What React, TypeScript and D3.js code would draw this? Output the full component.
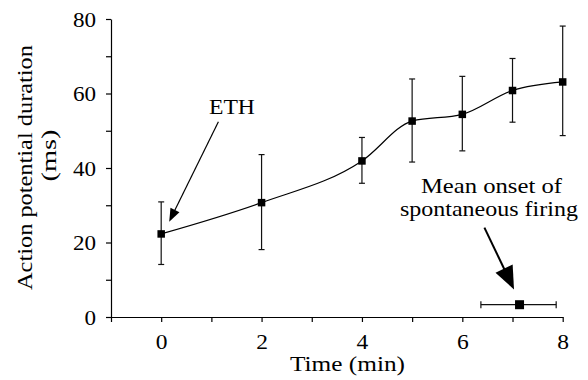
import * as d3 from "d3";
import { useEffect, useRef } from "react";

// time points (min) and action potential duration (ms)
const times = [0, 2, 4, 5, 6, 7, 8];
const apdMean = [22.3, 30.7, 41.9, 52.6, 54.4, 60.8, 63.1];
const apdUpper = [30.9, 43.6, 48.2, 63.9, 64.6, 69.4, 78.1];
const apdLower = [14.1, 18.1, 35.9, 41.6, 44.6, 52.3, 48.7];

// mean onset of spontaneous firing (min), drawn near the baseline
const onsetMean = [7.14];
const onsetLow = [6.37];
const onsetHigh = [7.87];
const onsetLevel = [3.3];

const xTicks = [-1, 0, 1, 2, 3, 4, 5, 6, 7, 8];
const xTickLabels = [0, 2, 4, 6, 8];
const yTicks = [0, 10, 20, 30, 40, 50, 60, 70, 80];
const yTickLabels = [0, 20, 40, 60, 80];

const FONT = "Liberation Serif, Times New Roman, Times, serif";

export default function App() {
  const ref = useRef<SVGSVGElement | null>(null);

  useEffect(() => {
    if (!ref.current) return;
    const svg = d3.select(ref.current);
    svg.selectAll("*").remove();

    const x = d3.scaleLinear().domain([-1, 8]).range([111, 562.7]);
    const y = d3.scaleLinear().domain([0, 80]).range([317, 19]);

    // axes
    const xAxis = svg
      .append("g")
      .attr("transform", `translate(0,${y(0)})`)
      .call(
        d3
          .axisBottom(x)
          .tickValues(xTicks)
          .tickSize(5)
          .tickSizeOuter(0)
          .tickFormat((d) => (xTickLabels.includes(+d) ? String(d) : ""))
      );
    const yAxis = svg
      .append("g")
      .attr("transform", `translate(${x(-1)},0)`)
      .call(
        d3
          .axisLeft(y)
          .tickValues(yTicks)
          .tickSize(5)
          .tickSizeOuter(0)
          .tickFormat((d) => (yTickLabels.includes(+d) ? String(d) : ""))
      );

    [xAxis, yAxis].forEach((g) => {
      g.attr("font-family", null).attr("font-size", null);
      g.select(".domain").attr("stroke", "#000").attr("stroke-width", 1.2);
      g.selectAll(".tick line").attr("stroke", "#000").attr("stroke-width", 1.2);
      g.selectAll(".tick text")
        .style("font-family", FONT)
        .style("font-size", "21px")
        .attr("fill", "#000");
    });
    xAxis
      .selectAll(".tick text")
      .attr("y", 0)
      .attr("dy", 0)
      .attr("transform", "translate(0,32) scale(1.12,1)");
    yAxis
      .selectAll(".tick text")
      .attr("x", 0)
      .attr("dy", "0.34em")
      .attr("transform", "translate(-15,0) scale(1.1,1)");

    const text = (s: string, transform: string, len: number) =>
      svg
        .append("text")
        .attr("transform", transform)
        .attr("text-anchor", "middle")
        .style("font-family", FONT)
        .style("font-size", "21px")
        .attr("textLength", len)
        .attr("lengthAdjust", "spacingAndGlyphs")
        .text(s);

    // axis titles
    text("Time (min)", "translate(347.5,370.5)", 115);
    text("Action potential duration", "translate(31.5,167.5) rotate(-90)", 245);
    text("(ms)", "translate(55.5,155.5) rotate(-90)", 52);

    const data = times.map((t, i) => ({
      t,
      m: apdMean[i],
      hi: apdUpper[i],
      lo: apdLower[i],
    }));

    // smooth line through the means
    const line = d3
      .line<{ t: number; m: number }>()
      .x((d) => x(d.t))
      .y((d) => y(d.m))
      .curve(d3.curveMonotoneX);
    svg
      .append("path")
      .datum(data)
      .attr("d", line)
      .attr("fill", "none")
      .attr("stroke", "#000")
      .attr("stroke-width", 1.2);

    // error bars
    const cap = 3;
    const eb = svg.append("g").attr("stroke", "#111").attr("stroke-width", 1.2);
    data.forEach((d) => {
      eb.append("line")
        .attr("x1", x(d.t))
        .attr("x2", x(d.t))
        .attr("y1", y(d.lo))
        .attr("y2", y(d.hi));
      [d.lo, d.hi].forEach((v) => {
        eb.append("line")
          .attr("x1", x(d.t) - cap)
          .attr("x2", x(d.t) + cap)
          .attr("y1", y(v))
          .attr("y2", y(v));
      });
    });

    // square markers
    const sq = 7.5;
    svg
      .append("g")
      .selectAll("rect")
      .data(data)
      .enter()
      .append("rect")
      .attr("x", (d) => x(d.t) - sq / 2)
      .attr("y", (d) => y(d.m) - sq / 2)
      .attr("width", sq)
      .attr("height", sq)
      .attr("fill", "#000");

    // onset marker with horizontal error bar
    const oy = y(onsetLevel[0]);
    eb.append("line")
      .attr("x1", x(onsetLow[0]))
      .attr("x2", x(onsetHigh[0]))
      .attr("y1", oy)
      .attr("y2", oy);
    [onsetLow[0], onsetHigh[0]].forEach((v) => {
      eb.append("line")
        .attr("x1", x(v))
        .attr("x2", x(v))
        .attr("y1", oy - 3.5)
        .attr("y2", oy + 3.5);
    });
    const osq = 9;
    svg
      .append("rect")
      .attr("x", x(onsetMean[0]) - osq / 2)
      .attr("y", oy - osq / 2)
      .attr("width", osq)
      .attr("height", osq)
      .attr("fill", "#000");

    // arrows
    const arrow = (
      from: [number, number],
      to: [number, number],
      headLen: number,
      headHalf: number,
      width: number
    ) => {
      const x1 = x(from[0]);
      const y1 = y(from[1]);
      const x2 = x(to[0]);
      const y2 = y(to[1]);
      const dx = x2 - x1;
      const dy = y2 - y1;
      const len = Math.hypot(dx, dy);
      const ux = dx / len;
      const uy = dy / len;
      const bx = x2 - ux * headLen;
      const by = y2 - uy * headLen;
      svg
        .append("line")
        .attr("x1", x1)
        .attr("y1", y1)
        .attr("x2", bx + ux * 2)
        .attr("y2", by + uy * 2)
        .attr("stroke", "#000")
        .attr("stroke-width", width);
      svg
        .append("polygon")
        .attr(
          "points",
          [
            [x2, y2],
            [bx - uy * headHalf, by + ux * headHalf],
            [bx + uy * headHalf, by - ux * headHalf],
          ]
            .map((p) => p.join(","))
            .join(" ")
        )
        .attr("fill", "#000");
    };

    arrow([1.14, 52.4], [0.16, 25.6], 13, 5, 1.2);
    arrow([6.44, 24.0], [7.03, 7.4], 23, 9.5, 2);

    // annotation texts
    const label = (tx: number, ty: number, s: string, len: number) =>
      text(s, `translate(${x(tx)},${y(ty)})`, len);
    label(1.41, 54.5, "ETH", 46);
    label(6.58, 33.3, "Mean onset of", 141);
    label(6.53, 27.1, "spontaneous firing", 178);
  }, []);

  return (
    <div>
      <svg
        ref={ref}
        width={588}
        height={380}
        style={{ position: "absolute", left: 0, top: 0, background: "#fff" }}
      ></svg>
    </div>
  );
}
